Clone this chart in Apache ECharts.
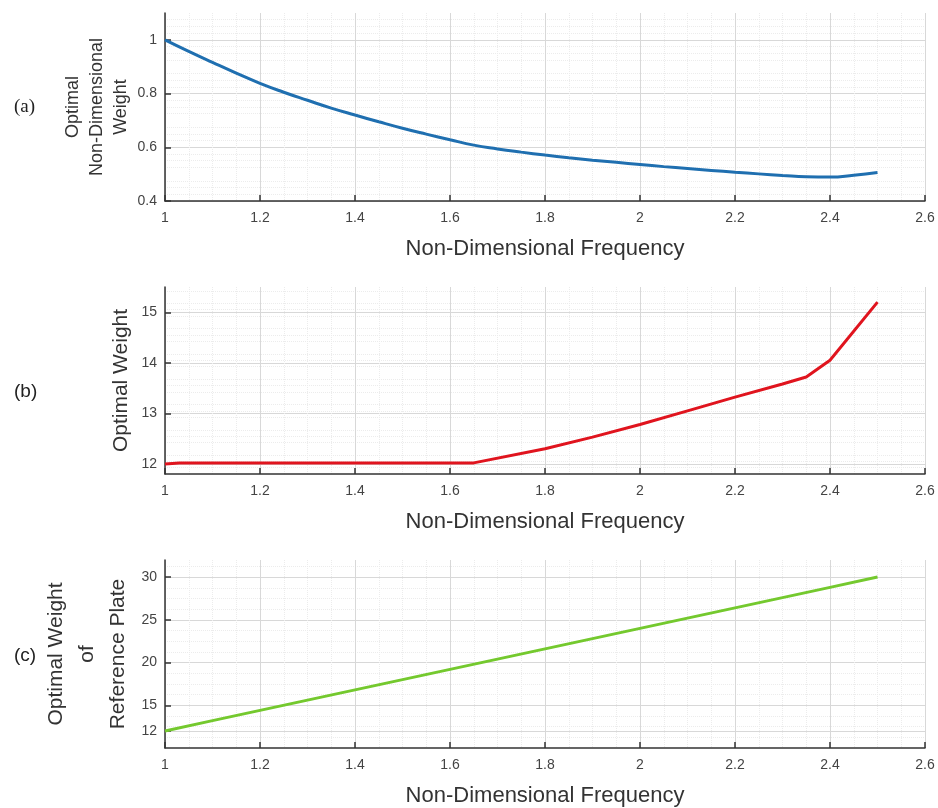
<!DOCTYPE html>
<html>
<head>
<meta charset="utf-8">
<script src="https://cdn.jsdelivr.net/npm/echarts@6/dist/echarts.min.js"></script>
<style>
  html, body { margin: 0; padding: 0; background: #fff; }
  #chart { width: 938px; height: 808px; }
</style>
</head>
<body>
<div id="chart"></div>
<script>
// panel (a) optimal non-dimensional weight
const freqA = [1.0, 1.05, 1.1, 1.15, 1.2, 1.25, 1.3, 1.35, 1.4, 1.45, 1.5, 1.55, 1.6, 1.65, 1.7, 1.75, 1.8, 1.85, 1.9, 1.95, 2.0, 2.05, 2.1, 2.15, 2.2, 2.25, 2.3, 2.35, 2.4, 2.45, 2.5]
const weightA = [1.0, 0.957, 0.916, 0.876, 0.838, 0.805, 0.775, 0.746, 0.72, 0.695, 0.671, 0.649, 0.628, 0.608, 0.594, 0.582, 0.571, 0.561, 0.552, 0.544, 0.536, 0.528, 0.521, 0.514, 0.507, 0.501, 0.495, 0.49, 0.489, 0.496, 0.506]

// panel (b) optimal weight
const freqB = [1.0, 1.03, 1.2, 1.4, 1.6, 1.65, 1.8, 1.9, 2.0, 2.1, 2.2, 2.3, 2.35, 2.4, 2.5]
const weightB = [12.0, 12.02, 12.02, 12.02, 12.02, 12.02, 12.3, 12.53, 12.78, 13.05, 13.32, 13.58, 13.72, 14.05, 15.2]

// panel (c) optimal weight of reference plate
const freqC = [1.0, 1.1, 1.2, 1.3, 1.4, 1.5, 1.6, 1.7, 1.8, 1.9, 2.0, 2.1, 2.2, 2.3, 2.4, 2.5]
const weightC = [12.0, 13.2, 14.4, 15.6, 16.8, 18.0, 19.2, 20.4, 21.6, 22.8, 24.0, 25.2, 26.4, 27.6, 28.8, 30.0]

const yTicksA = [0.4, 0.6, 0.8, 1]
const yTicksB = [12, 13, 14, 15]
const yTicksC = [12, 15, 20, 25, 30]

const xName = 'Non-Dimensional Frequency'
const font = 'Liberation Sans, Arial, sans-serif'

const chart = echarts.init(document.getElementById('chart'))

function pairs(xs, ys) {
  return xs.map((x, i) => [x, ys[i]])
}

function xAxis(idx) {
  return {
    type: 'value',
    gridIndex: idx,
    min: 1,
    max: 2.6,
    interval: 0.2,
    name: xName,
    nameLocation: 'middle',
    nameGap: 37,
    nameTextStyle: { fontFamily: font, fontSize: 22, color: '#333' },
    axisLine: { show: true, onZero: false, lineStyle: { color: '#333', width: 1.5 } },
    axisTick: { show: true, inside: true, length: 6, lineStyle: { color: '#333', width: 1.5 } },
    axisLabel: { fontFamily: font, fontSize: 14, color: '#444', margin: 10 },
    splitLine: { show: true, lineStyle: { color: '#d8d8d8', width: 1 } },
    minorTick: { show: false, splitNumber: 4 },
    minorSplitLine: { show: true, lineStyle: { color: '#ececec', type: 'dotted', width: 1 } }
  }
}

function yAxis(idx, min, max, interval, ticks, name, nameSize, nameGap, lineHeight) {
  return {
    type: 'value',
    gridIndex: idx,
    min: min,
    max: max,
    interval: interval,
    name: name,
    nameLocation: 'middle',
    nameGap: nameGap,
    nameMoveOverlap: false,
    nameRotate: 90,
    nameTextStyle: { fontFamily: font, fontSize: nameSize, color: '#333', lineHeight: lineHeight },
    axisLine: { show: true, onZero: false, lineStyle: { color: '#333', width: 1.5 } },
    axisTick: { show: true, inside: true, length: 6, customValues: ticks, lineStyle: { color: '#333', width: 1.5 } },
    axisLabel: { fontFamily: font, fontSize: 14, color: '#444', margin: 8, customValues: ticks },
    splitLine: { show: true, lineStyle: { color: '#d8d8d8', width: 1 } },
    minorTick: { show: false, splitNumber: 4 },
    minorSplitLine: { show: true, lineStyle: { color: '#ececec', type: 'dotted', width: 1 } }
  }
}

chart.setOption({
  animation: false,
  backgroundColor: '#fff',
  grid: [
    { left: 165, right: 13, top: 13, height: 188 },
    { left: 165, right: 13, top: 287, height: 187 },
    { left: 165, right: 13, top: 560, height: 189 }
  ],
  xAxis: [xAxis(0), xAxis(1), xAxis(2)],
  yAxis: [
    yAxis(0, 0.4, 1.1, 0.1, yTicksA, 'Optimal\nNon-Dimensional\nWeight', 18, 32, 24),
    yAxis(1, 11.8, 15.5, 0.5, yTicksB, 'Optimal Weight', 21, 31, 26),
    yAxis(2, 10, 32, 5, yTicksC, 'Optimal Weight\nof\nReference Plate', 21, 31, 31)
  ],
  graphic: [
    { type: 'text', left: 14, top: 98, style: { text: '(a)', font: '19px "Liberation Serif", serif', fill: '#222' } },
    { type: 'text', left: 14, top: 382, style: { text: '(b)', font: '19px "Liberation Sans", sans-serif', fill: '#222' } },
    { type: 'text', left: 14, top: 646, style: { text: '(c)', font: '19px "Liberation Sans", sans-serif', fill: '#222' } }
  ],
  series: [
    {
      type: 'line', xAxisIndex: 0, yAxisIndex: 0,
      data: pairs(freqA, weightA), smooth: true, symbol: 'none',
      lineStyle: { color: '#1f6fb0', width: 3 }
    },
    {
      type: 'line', xAxisIndex: 1, yAxisIndex: 1,
      data: pairs(freqB, weightB), symbol: 'none',
      lineStyle: { color: '#e0141e', width: 3 }
    },
    {
      type: 'line', xAxisIndex: 2, yAxisIndex: 2,
      data: pairs(freqC, weightC), symbol: 'none',
      lineStyle: { color: '#74c92e', width: 3 }
    }
  ]
})
</script>
</body>
</html>
